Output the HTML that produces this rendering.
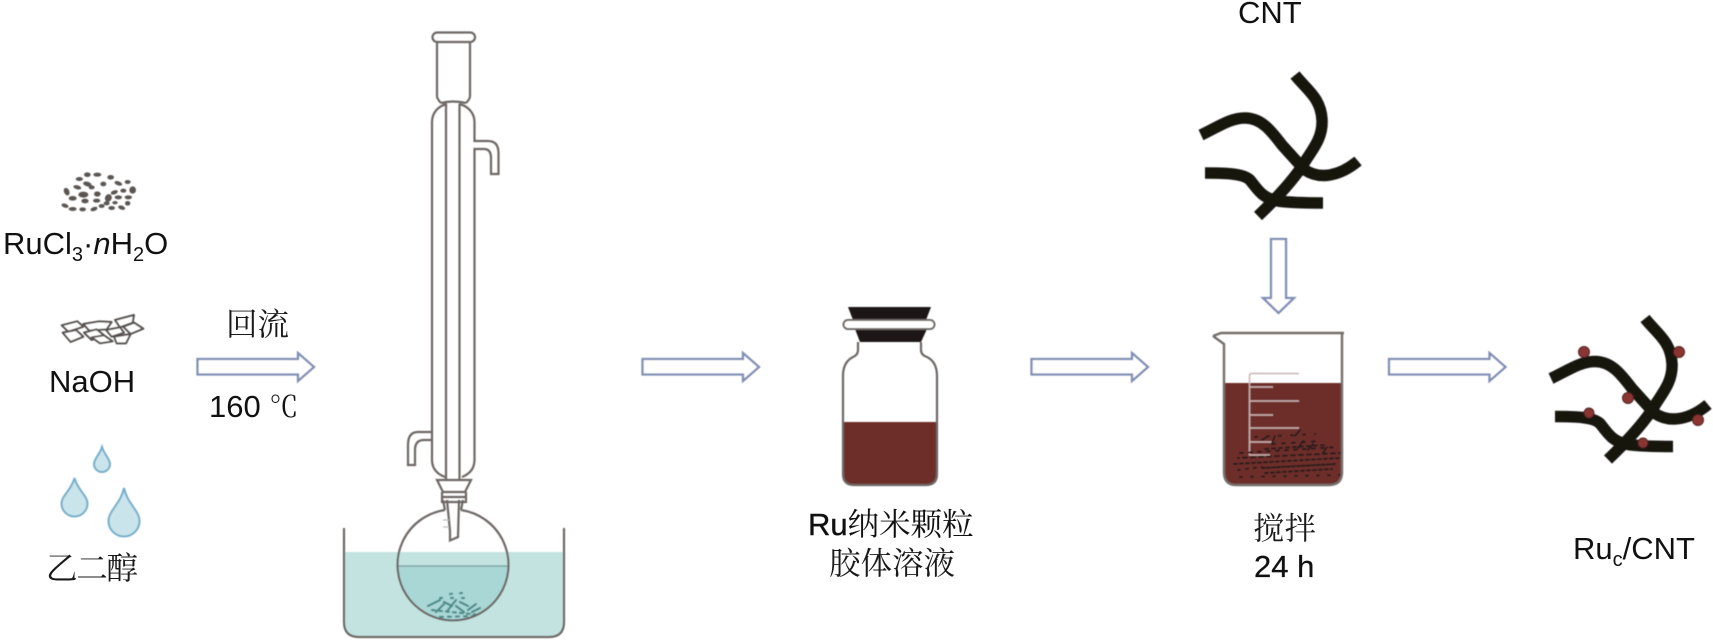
<!DOCTYPE html>
<html lang="zh">
<head>
<meta charset="utf-8">
<title>Ruc/CNT</title>
<style>
html,body{margin:0;padding:0;background:#fff;width:1713px;height:641px;overflow:hidden}
svg{display:block}
.l{font-family:"Liberation Sans","Noto Sans CJK SC",sans-serif;font-size:31px;fill:#111}
.c{font-family:"Liberation Sans","Noto Serif CJK SC",serif;font-size:31.500px;fill:#1a1a1a}
.g{fill:none;stroke:#6d6865;stroke-width:2.200}
.a{fill:#fff;stroke:#7f8eb4;stroke-width:2.300}
.t{fill:none;stroke:#151211;stroke-width:11.500;stroke-linejoin:round}
.d{fill:#c9e4ea;stroke:#76aecb;stroke-width:2}
.r{fill:#8b3533;stroke:#4a2120;stroke-width:1}
</style>
</head>
<body>
<svg width="1713" height="641" viewBox="0 0 1713 641" xmlns="http://www.w3.org/2000/svg">
<defs>
<filter id="b" x="-5%" y="-5%" width="110%" height="110%"><feGaussianBlur stdDeviation="0.45"/></filter>
</defs>
<rect width="1713" height="641" fill="#fff"/>

<g filter="url(#b)">
<!-- grains -->
<g transform="translate(0,140) scale(.3333)" fill="#5b5753">
<ellipse cx="262" cy="104" rx="10" ry="7"/><ellipse cx="292" cy="104" rx="12" ry="6"/><ellipse cx="332" cy="112" rx="10" ry="7"/>
<ellipse cx="238" cy="117" rx="11" ry="6"/><ellipse cx="355" cy="130" rx="12" ry="6" transform="rotate(20 355 130)"/><ellipse cx="383" cy="126" rx="9" ry="6"/>
<ellipse cx="262" cy="132" rx="13" ry="7" transform="rotate(15 262 132)"/><ellipse cx="310" cy="132" rx="9" ry="7"/><ellipse cx="232" cy="142" rx="12" ry="6" transform="rotate(15 232 142)"/>
<ellipse cx="275" cy="142" rx="9" ry="6"/><ellipse cx="200" cy="155" rx="8" ry="12" transform="rotate(-25 200 155)"/><ellipse cx="398" cy="150" rx="10" ry="11"/>
<ellipse cx="250" cy="164" rx="15" ry="9"/><ellipse cx="292" cy="162" rx="10" ry="8"/><ellipse cx="343" cy="157" rx="11" ry="6" transform="rotate(-20 343 157)"/>
<ellipse cx="370" cy="152" rx="9" ry="6"/><ellipse cx="218" cy="175" rx="12" ry="7"/><ellipse cx="255" cy="183" rx="11" ry="7"/>
<ellipse cx="325" cy="174" rx="10" ry="12" transform="rotate(25 325 174)"/><ellipse cx="355" cy="172" rx="11" ry="6"/><ellipse cx="385" cy="172" rx="11" ry="6"/>
<ellipse cx="290" cy="182" rx="11" ry="6"/><ellipse cx="320" cy="190" rx="9" ry="6"/><ellipse cx="383" cy="190" rx="8" ry="7"/>
<ellipse cx="195" cy="197" rx="11" ry="6" transform="rotate(20 195 197)"/><ellipse cx="218" cy="207" rx="12" ry="6"/><ellipse cx="248" cy="208" rx="10" ry="6"/>
<ellipse cx="282" cy="207" rx="11" ry="6" transform="rotate(-20 282 207)"/><ellipse cx="305" cy="198" rx="9" ry="6"/><ellipse cx="335" cy="204" rx="10" ry="6"/>
<ellipse cx="365" cy="203" rx="11" ry="6" transform="rotate(20 365 203)"/><ellipse cx="345" cy="188" rx="8" ry="5"/>
</g>
<!-- NaOH flakes -->
<g transform="translate(0,140) scale(.3333)" fill="#fff" stroke="#55504d" stroke-width="6" stroke-linejoin="round">
<polygon points="185,556 232,544 250,560 205,575"/>
<polygon points="250,552 298,544 335,546 320,568 268,572"/>
<polygon points="345,540 402,525 398,548 360,562"/>
<polygon points="370,560 402,548 430,566 392,582"/>
<polygon points="188,578 228,570 250,590 212,606"/>
<polygon points="252,578 290,568 312,586 275,600"/>
<polygon points="275,592 312,586 338,604 300,610"/>
<polygon points="318,570 360,562 372,578 335,590"/>
<polygon points="342,590 392,582 378,610 350,610"/>
</g>
<!-- drops -->
<path class="d" d="M102,447 C104,454 110,459 110,464 A8,8 0 0 1 94,464 C94,459 100,454 102,447Z"/>
<path class="d" d="M74.500,478 C77,489 87.500,496 87.500,503.500 A13,13 0 0 1 61.500,503.500 C61.500,496 72,489 74.500,478Z"/>
<path class="d" d="M124,488 C127,503 139.500,511 139.500,521 A15.500,15.500 0 0 1 108.500,521 C108.500,511 121,503 124,488Z"/>

<!-- arrows -->
<path class="a" d="M197.500,359 H298 V353 L314,367 L298,381 V374.500 H197.500Z"/>
<path class="a" d="M642.500,359 H743 V353 L759,367 L743,381 V374.500 H642.500Z"/>
<path class="a" d="M1031.500,359 H1132 V353 L1148,367 L1132,381 V374.500 H1031.500Z"/>
<path class="a" d="M1389,359 H1489.500 V353 L1505.500,367 L1489.500,381 V374.500 H1389Z"/>
<path class="a" d="M1271,239 H1286 V298 H1294 L1278.500,313 L1263,298 H1271Z"/>

<!-- bath water -->
<path d="M344,552 H564 V622 Q564,637 549,637 H359 Q344,637 344,622Z" fill="#c3e3e1"/>
<!-- flask liquid -->
<path d="M398,566 A55.500,55.500 0 0 0 509,566Z" fill="#a9d7d5"/>
<path d="M398,566 H509" stroke="#6f9c9a" stroke-width="1.200"/>
<!-- flask particles -->
<g fill="none" stroke="#4d8c8b" stroke-width="2.200" stroke-linecap="round">
<path d="M428,606 L440,600 M436,612 L444,604 M444,602 L452,606 M448,610 L456,600 M456,606 L464,612 M460,602 L468,606 M468,610 L476,604 M472,612 L480,608"/>
<path d="M432,610 L480,615" stroke-dasharray="3 4"/>
<path d="M440,617 L474,616" stroke-dasharray="3 5"/>
<path d="M440,598 L470,598" stroke-dasharray="2 9"/>
<path d="M450,594 L462,593" stroke-dasharray="2 8"/>
</g>
<path class="g" d="M344,528 V622 Q344,637 359,637 H549 Q564,637 564,622 V528" stroke-width="2.200"/>
<!-- flask -->
<path class="g" d="M445,510 A55.500,55.500 0 1 0 461,510"/>
<path class="g" d="M443,500 L445,510 M463,500 L461,510"/>
<path class="g" d="M447,500 L450,531 V540.500 L458,537 L459,500"/>
<path d="M443,520 H449 M443,527 H449" stroke="#bbb" stroke-width="1.200"/>
<!-- joint -->
<path class="g" d="M437,480 H471 L465,492 H443Z"/>
<path class="g" d="M442,492 V502 H466 V492 M442,497 H466"/>
<!-- condenser -->
<rect class="g" x="432.500" y="32.500" width="42.500" height="9.500" rx="4.700"/>
<path class="g" d="M437,42 V96 Q437,99 441,103 M470,42 V96 Q470,99 466,103 M441,103 Q453,100 466,103"/>
<path class="g" d="M447,104 C438,106 432,113 432,122 V460 Q432,472 445,477"/>
<path class="g" d="M459,104 C468,106 474.500,113 474.500,122 V141 H488 Q498,141 498.500,152 V174 H491 V158 Q491,149 484,149 H474.500 V460 Q474.500,472 462,477"/>
<path class="g" d="M446,104 V480 M459.500,104 V480"/>
<path class="g" d="M432,432 H418 Q408,432 408,445 V465 H415 V450 Q415,440 424,440 H432"/>

<!-- bottle -->
<path d="M848,307 H931 L926,320 H853Z" fill="#1b1816"/>
<path d="M855,329 H927 L921,342 H860Z" fill="#1b1816"/>
<path d="M843,422 H937 V474 Q937,485 926,485 H854 Q843,485 843,474Z" fill="#6d2f2a"/>
<path class="g" d="M858,342 V350 Q858,355 853,357 Q843,362 843,376 V474 Q843,485 854,485 H926 Q937,485 937,474 V376 Q937,362 927,357 Q921,355 921,350 V342"/>
<rect x="843.500" y="320" width="91" height="9" rx="4.500" fill="#fff" stroke="#6d6865" stroke-width="2"/>

<!-- CNT -->
<path class="t" d="M1295,75 C1307,90 1321,98 1322,120 C1323,140 1310,152 1303,165 C1293,180 1280,195 1258,216"/>
<path class="t" d="M1201,135 C1218,127 1230,118 1245,118 C1262,118 1272,132 1282,145 C1292,156 1298,163 1305,170 C1320,180 1340,176 1358,161"/>
<path class="t" d="M1205,173 C1222,173 1243,173 1250,180 C1258,190 1262,198 1278,201 C1292,203 1308,203 1323,203"/>
<g transform="translate(350,243.500)">
<path class="t" d="M1295,75 C1307,90 1321,98 1322,120 C1323,140 1310,152 1303,165 C1293,180 1280,195 1258,216"/>
<path class="t" d="M1201,135 C1218,127 1230,118 1245,118 C1262,118 1272,132 1282,145 C1292,156 1298,163 1305,170 C1320,180 1340,176 1358,161"/>
<path class="t" d="M1205,173 C1222,173 1243,173 1250,180 C1258,190 1262,198 1278,201 C1292,203 1308,203 1323,203"/>
</g>
<circle class="r" cx="1584" cy="352" r="5.500"/>
<circle class="r" cx="1679" cy="352" r="5.500"/>
<circle class="r" cx="1628" cy="398" r="5.500"/>
<circle class="r" cx="1589" cy="413" r="5"/>
<circle class="r" cx="1698" cy="420" r="5.500"/>
<circle class="r" cx="1643" cy="443" r="5"/>

<!-- beaker -->
<path d="M1223,383 H1342 V472 Q1342,485 1329,485 H1236 Q1223,485 1223,472Z" fill="#6d2f2a"/>
<g fill="none" stroke="#c9b5b3" stroke-width="1.500">
<path d="M1299,373.500 H1252 Q1249.500,373.500 1249.500,376 V455 H1270"/>
<path d="M1250,387 H1273 M1250,401 H1299 M1250,415 H1273 M1250,428 H1299 M1250,442 H1273"/>
</g>
<g fill="none" stroke="#2a1d1c" stroke-width="2" stroke-linecap="round">
<path d="M1234,464 L1340,458" stroke-dasharray="3 3"/>
<path d="M1238,458 L1340,453" stroke-dasharray="4 4" stroke-dashoffset="3"/>
<path d="M1262,468 L1336,464" stroke-dasharray="3 2"/>
<path d="M1265,473 L1332,469" stroke-dasharray="3 3"/>
<path d="M1240,453 L1338,447" stroke-dasharray="3 6"/>
<path d="M1265,449 L1326,445" stroke-dasharray="3 4"/>
<path d="M1272,444 L1320,441" stroke-dasharray="3 7"/>
<path d="M1238,470 L1262,467" stroke-dasharray="2 6"/>
<path d="M1240,477 L1340,475" stroke-dasharray="2 9"/>
<path d="M1255,437 L1315,434" stroke-dasharray="2 10"/>
<path d="M1295,436 L1300,430 M1272,443 L1275,436 M1298,448 L1303,441 M1262,440 L1268,436 M1308,450 L1313,444 M1323,453 L1327,447" stroke-width="1.800"/>
</g>
<path d="M1213,336 L1224,344 V472 Q1224,485 1236,485 H1329 Q1342,485 1342,472 V334 M1213,336 L1221,333 H1344" fill="none" stroke="#746e6b" stroke-width="2.400"/>
</g>

<!-- text -->
<text class="l" x="3" y="254">RuCl<tspan font-size="20" dy="7">3</tspan><tspan dy="-7">·</tspan><tspan font-style="italic">n</tspan>H<tspan font-size="20" dy="7">2</tspan><tspan dy="-7">O</tspan></text>
<text class="l" x="49" y="392">NaOH</text>
<text class="c" x="46" y="579" textLength="92" lengthAdjust="spacing">乙二醇</text>
<text class="c" x="226" y="335">回流</text>
<text class="l" x="209" y="417">160 <tspan font-family="'Noto Serif CJK SC',serif" font-size="29">℃</tspan></text>
<text class="l" x="808" y="535" stroke="#111" stroke-width=".4">Ru<tspan font-family="'Noto Serif CJK SC',serif" font-size="31.500" stroke="none">纳米颗粒</tspan></text>
<text class="c" x="829" y="574">胶体溶液</text>
<text class="l" x="1238" y="23">CNT</text>
<text class="c" x="1253" y="539">搅拌</text>
<text class="l" x="1254" y="577" stroke="#111" stroke-width=".3">24 h</text>
<text class="l" x="1573" y="559">Ru<tspan font-size="20" dy="7">c</tspan><tspan dy="-7">/CNT</tspan></text>
</svg>
</body>
</html>
